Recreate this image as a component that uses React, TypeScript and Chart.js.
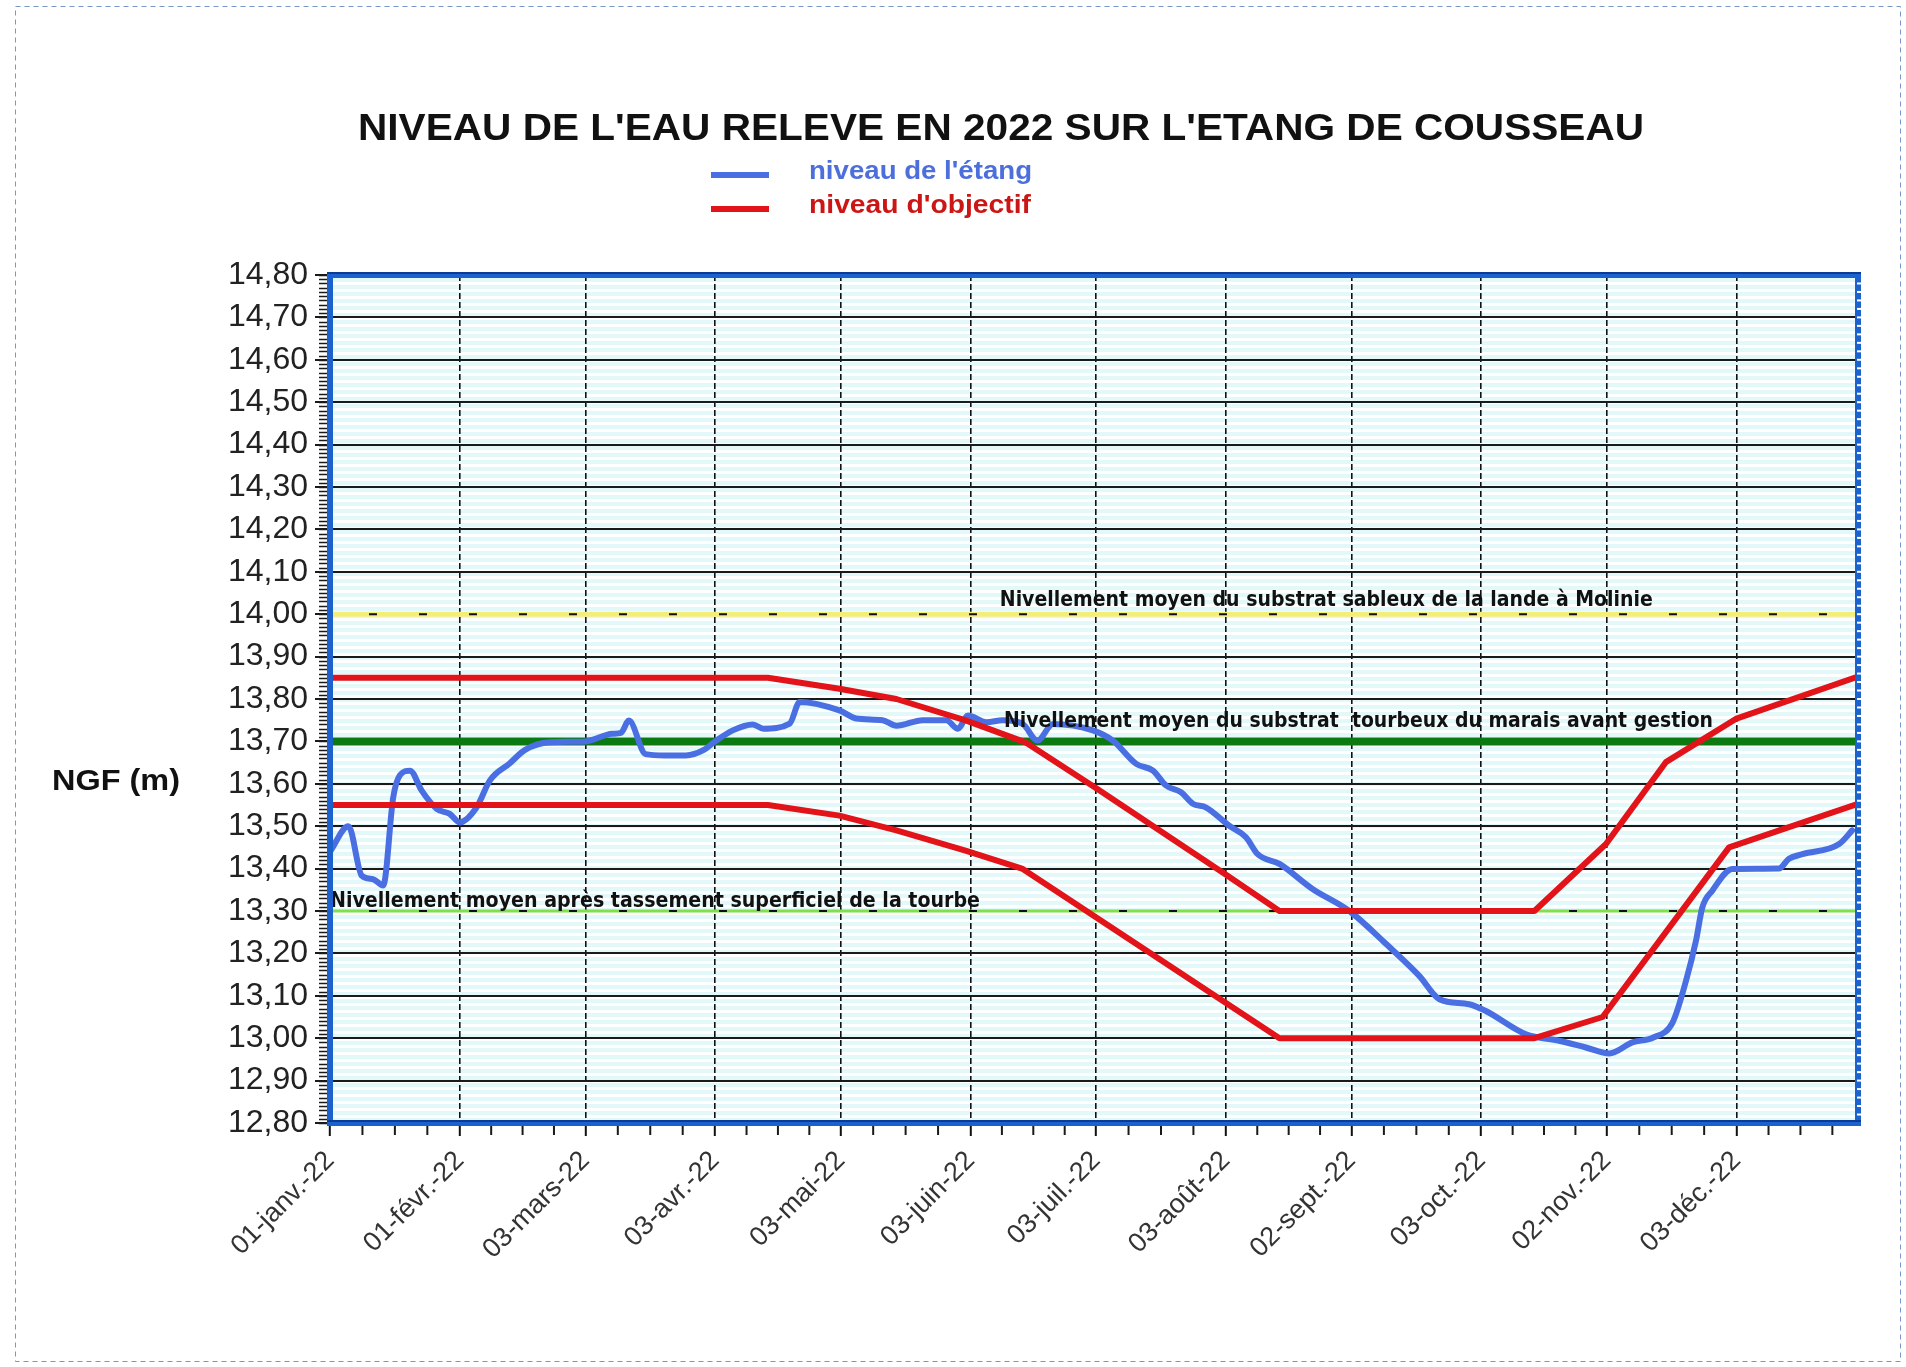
import React, { useEffect, useRef } from 'react';
import { Chart, registerables } from 'chart.js';

Chart.register(...registerables);

const CANVAS_W = 1906;
const CANVAS_H = 1367;

const chartTitle = "NIVEAU DE L'EAU RELEVE EN 2022 SUR L'ETANG DE COUSSEAU";
const seriesNames = ["niveau de l'étang", "niveau d'objectif"];
const yAxisTitle = 'NGF (m)';

// x axis: day of year 2022 (0 = 1 Jan)
const xTickDays = [0, 31, 61, 92, 122, 153, 183, 214, 244, 275, 305, 336];
const xTickLabels = [
  '01-janv.-22', '01-févr.-22', '03-mars-22', '03-avr.-22', '03-mai-22', '03-juin-22',
  '03-juil.-22', '03-août-22', '02-sept.-22', '03-oct.-22', '02-nov.-22', '03-déc.-22',
];

const yTicks = [
  12.8, 12.9, 13.0, 13.1, 13.2, 13.3, 13.4, 13.5, 13.6, 13.7, 13.8,
  13.9, 14.0, 14.1, 14.2, 14.3, 14.4, 14.5, 14.6, 14.7, 14.8,
];

// niveau de l'étang
const pondDays = [
  0, 4.4, 7.6, 10.3, 12.7, 15.1, 16.7, 19.1, 21.9, 25.5, 28.6, 31, 35, 38.2, 42.9, 46.6, 52.5,
  61, 67.4, 69.5, 71.4, 75.4, 80, 85, 89.3, 92, 96.2, 101, 103.5, 109.8, 112.2, 121.7, 125.7,
  132, 135.3, 141.6, 147.2, 150, 152.4, 156.8, 160.7, 165.5, 169, 172.7, 182.2, 187, 192.6,
  196.6, 199.7, 203.3, 206.1, 209.3, 214.8, 218.8, 221.6, 226.8, 234.7, 243.5, 252.3, 260.2,
  265, 272.1, 276.1, 285.7, 293.6, 300, 305.6, 311.1, 316, 320.7, 323.9, 326.3, 327.8, 330.2,
  335, 346.1, 348.5, 351.7, 360.5, 363.6,
];
const pondLevels = [
  13.44, 13.5, 13.383, 13.375, 13.36, 13.568, 13.62, 13.631, 13.584, 13.541, 13.529, 13.509,
  13.544, 13.608, 13.648, 13.68, 13.698, 13.7, 13.718, 13.72, 13.749, 13.67, 13.667, 13.667,
  13.68, 13.7, 13.726, 13.74, 13.73, 13.742, 13.793, 13.773, 13.754, 13.75, 13.737, 13.75,
  13.75, 13.73, 13.761, 13.745, 13.75, 13.741, 13.702, 13.741, 13.726, 13.702, 13.647, 13.631,
  13.596, 13.58, 13.553, 13.544, 13.501, 13.474, 13.434, 13.411, 13.352, 13.3, 13.222, 13.147,
  13.092, 13.08, 13.064, 13.009, 12.994, 12.978, 12.964, 12.99, 13.001, 13.037, 13.135, 13.23,
  13.308, 13.348, 13.399, 13.4, 13.423, 13.434, 13.458, 13.49,
];

// niveau d'objectif (haut / bas)
const targetHighDays = [0, 104.6, 121.7, 135.3, 152, 166.3, 183.4, 214.4, 226.8, 287.7, 304.8, 319.1, 335.8, 365];
const targetHighLevels = [13.85, 13.85, 13.824, 13.8, 13.749, 13.697, 13.587, 13.383, 13.3, 13.3, 13.458, 13.651, 13.753, 13.853];
const targetLowDays = [0, 104.6, 121.7, 135.3, 152, 165.3, 226.8, 287.7, 304, 334.2, 365];
const targetLowLevels = [13.55, 13.55, 13.525, 13.49, 13.442, 13.4, 13.0, 13.0, 13.05, 13.45, 13.553];

// reference levels
const refLevels = [14.0, 13.7, 13.3];
const refLabels = [
  'Nivellement moyen du substrat sableux de la lande à Molinie',
  'Nivellement moyen du substrat  tourbeux du marais avant gestion',
  'Nivellement moyen après tassement superficiel de la tourbe',
];

const BLUE = '#4a6fe3';
const RED = '#e2141a';
const SANS = '"Liberation Sans", Arial, sans-serif';
const COND = '"DejaVu Sans Condensed", "DejaVu Sans", sans-serif';

const pts = (xs: number[], ys: number[]) => xs.map((x, i) => ({ x, y: ys[i] }));
const flat = (level: number) => [{ x: 0, y: level }, { x: 365, y: level }];

function fitText(ctx: CanvasRenderingContext2D, text: string, x: number, y: number, font: string, width: number, color: string) {
  ctx.save();
  ctx.font = font;
  ctx.fillStyle = color;
  ctx.textAlign = 'left';
  ctx.textBaseline = 'alphabetic';
  const natural = ctx.measureText(text).width || 1;
  ctx.translate(x, y);
  ctx.scale(width / natural, 1);
  ctx.fillText(text, 0, 0);
  ctx.restore();
}

const decorPlugin = {
  id: 'decor',
  beforeDraw(chart: any) {
    const { ctx, chartArea: a } = chart;
    ctx.save();
    ctx.fillStyle = '#ffffff';
    ctx.fillRect(0, 0, CANVAS_W, CANVAS_H);
    ctx.fillStyle = '#e3f8f9';
    ctx.fillRect(a.left, a.top, a.right - a.left, a.bottom - a.top);
    ctx.fillStyle = '#ffffff';
    for (let y = a.top; y < a.bottom; y += 7) ctx.fillRect(a.left, y, a.right - a.left, 3);
    ctx.restore();
  },
  afterDatasetsDraw(chart: any) {
    const { ctx, chartArea: a, scales } = chart;
    const xs = scales.x;
    const ys = scales.y;
    ctx.save();
    // reference labels
    const anchors = [
      { day: 160, dy: -8, w: 653 },
      { day: 161, dy: -14, w: 709 },
      { day: 0, dy: -4, w: 650 },
    ];
    refLabels.forEach((t, i) => {
      const an = anchors[i];
      fitText(ctx, t, xs.getPixelForValue(an.day), ys.getPixelForValue(refLevels[i]) + an.dy, `bold 21px ${COND}`, an.w, '#111');
    });
    // minor y ticks
    ctx.strokeStyle = '#1a1a1a';
    ctx.lineWidth = 1.5;
    for (let i = 0; i <= 200; i++) {
      const y = Math.round(ys.getPixelForValue(12.8 + i / 100)) + 0.5;
      ctx.beginPath();
      ctx.moveTo(a.left - 11, y);
      ctx.lineTo(a.left, y);
      ctx.stroke();
    }
    // minor x ticks
    ctx.lineWidth = 2;
    for (let k = 0; k < xTickDays.length; k++) {
      const d0 = xTickDays[k];
      const d1 = k + 1 < xTickDays.length ? xTickDays[k + 1] : d0 + 30.5;
      for (let q = 1; q < 4; q++) {
        const d = d0 + ((d1 - d0) * q) / 4;
        if (d > 365) continue;
        const x = xs.getPixelForValue(d);
        ctx.beginPath();
        ctx.moveTo(x, a.bottom);
        ctx.lineTo(x, a.bottom + 12);
        ctx.stroke();
      }
    }
    // frame
    ctx.strokeStyle = '#1b62cf';
    ctx.lineWidth = 6;
    ctx.strokeRect(a.left, a.top, a.right - a.left, a.bottom - a.top);
    ctx.strokeStyle = '#0b3b94';
    ctx.lineWidth = 2;
    ctx.beginPath();
    ctx.moveTo(a.left - 3, a.top - 2);
    ctx.lineTo(a.right + 3, a.top - 2);
    ctx.moveTo(a.left - 3, a.bottom - 2);
    ctx.lineTo(a.right + 3, a.bottom - 2);
    ctx.stroke();
    // white marks on right border
    ctx.strokeStyle = '#ffffff';
    ctx.lineWidth = 2;
    for (let i = 1; i < 100; i++) {
      const y = ys.getPixelForValue(12.8 + i / 50);
      ctx.beginPath();
      ctx.moveTo(a.right - 1, y);
      ctx.lineTo(a.right + 3, y);
      ctx.stroke();
    }
    ctx.restore();
  },
  afterDraw(chart: any) {
    const { ctx } = chart;
    ctx.save();
    fitText(ctx, chartTitle, 358, 140, `bold 36px ${SANS}`, 1286, '#111');
    // legend
    ctx.lineWidth = 6;
    ctx.strokeStyle = BLUE;
    ctx.beginPath();
    ctx.moveTo(711, 175);
    ctx.lineTo(769, 175);
    ctx.stroke();
    ctx.strokeStyle = RED;
    ctx.beginPath();
    ctx.moveTo(711, 209);
    ctx.lineTo(769, 209);
    ctx.stroke();
    fitText(ctx, seriesNames[0], 809, 179, `bold 25px ${SANS}`, 223, '#4d6fdc');
    fitText(ctx, seriesNames[1], 809, 213, `bold 25px ${SANS}`, 222, '#cc1515');
    fitText(ctx, yAxisTitle, 52, 790, `bold 30px ${SANS}`, 128, '#111');
    // outer dashed frame
    ctx.strokeStyle = '#7896c8';
    ctx.lineWidth = 1;
    ctx.setLineDash([5, 4]);
    ctx.strokeRect(15.5, 6.5, 1885, 1355);
    ctx.restore();
  },
};

export default function App() {
  const ref = useRef<HTMLCanvasElement | null>(null);
  useEffect(() => {
    if (!ref.current) return;
    const chart = new Chart(ref.current, {
      type: 'line',
      data: {
        datasets: [
          { label: seriesNames[1], data: pts(targetHighDays, targetHighLevels), borderColor: RED, borderWidth: 6, pointRadius: 0, tension: 0, borderJoinStyle: 'round' },
          { label: seriesNames[1] + ' bas', data: pts(targetLowDays, targetLowLevels), borderColor: RED, borderWidth: 6, pointRadius: 0, tension: 0, borderJoinStyle: 'round' },
          { label: seriesNames[0], data: pts(pondDays, pondLevels), borderColor: BLUE, borderWidth: 6, pointRadius: 0, cubicInterpolationMode: 'monotone', borderJoinStyle: 'round', borderCapStyle: 'round' },
          { label: 'ref1 dash', data: flat(refLevels[0]), borderColor: '#111', borderWidth: 2, borderDash: [8, 42], borderDashOffset: 11, pointRadius: 0 },
          { label: 'ref1', data: flat(refLevels[0]), borderColor: '#f4ee78', borderWidth: 5, pointRadius: 0 },
          { label: 'ref3 dash', data: flat(refLevels[2]), borderColor: '#111', borderWidth: 2, borderDash: [8, 42], borderDashOffset: 11, pointRadius: 0 },
          { label: 'ref3', data: flat(refLevels[2]), borderColor: '#7fe04a', borderWidth: 3, pointRadius: 0 },
          { label: 'ref2', data: flat(refLevels[1]), borderColor: '#0b7a10', borderWidth: 8, pointRadius: 0 },
        ] as any,
      },
      options: {
        responsive: false,
        animation: false,
        devicePixelRatio: 1,
        events: [],
        layout: { padding: { top: 275, right: 48, left: 0, bottom: 0 } },
        plugins: { legend: { display: false }, title: { display: false }, tooltip: { enabled: false } },
        scales: {
          x: {
            type: 'linear',
            min: 0,
            max: 365,
            afterBuildTicks: (s: any) => { s.ticks = xTickDays.map((v) => ({ value: v })); },
            afterFit: (s: any) => { s.height = 244; },
            ticks: {
              autoSkip: false,
              maxRotation: 45,
              minRotation: 45,
              padding: 9,
              color: '#333',
              font: { family: SANS, size: 27 },
              callback: (_v: any, i: number) => xTickLabels[i] ?? '',
            },
            grid: { color: '#111', lineWidth: 1.6, tickLength: 13, tickColor: '#111', tickWidth: 2, tickBorderDash: [] },
            border: { display: false, dash: [6, 3] },
          },
          y: {
            type: 'linear',
            min: 12.8,
            max: 14.8,
            afterBuildTicks: (s: any) => { s.ticks = yTicks.map((v) => ({ value: v })); },
            afterFit: (s: any) => { s.width = 330; },
            ticks: {
              autoSkip: false,
              padding: 7,
              color: '#222',
              font: { family: SANS, size: 32 },
              callback: (v: any) => Number(v).toFixed(2).replace('.', ','),
            },
            grid: { color: '#1a1a1a', lineWidth: 2, tickLength: 15, tickColor: '#1a1a1a', tickWidth: 2 },
            border: { display: false },
          },
        },
      } as any,
      plugins: [decorPlugin],
    });
    return () => chart.destroy();
  }, []);
  return (
    <div style={{ position: 'absolute', left: 0, top: 0, width: CANVAS_W, height: CANVAS_H, background: '#fff' }}>
      <canvas ref={ref} width={CANVAS_W} height={CANVAS_H} style={{ width: CANVAS_W, height: CANVAS_H, display: 'block' }} />
    </div>
  );
}
